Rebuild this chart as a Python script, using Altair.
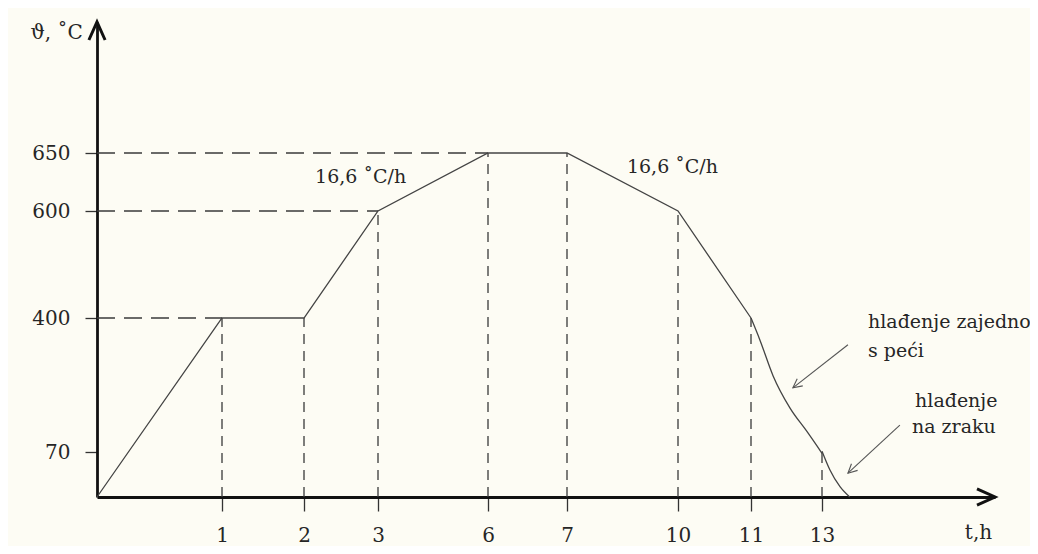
import altair as alt
import pandas as pd

# ---- data ----
# annealing profile: time (h) and temperature (°C)
t_h = [0, 1, 2, 3, 6, 7, 10, 11]
temp_c = [0, 400, 400, 600, 650, 650, 600, 400]
# cooling curves (with the furnace, then in air)
cool_seg = ["furnace"] * 6 + ["air"] * 4
cool_t = [11, 11.25, 11.62, 12.1, 12.58, 13, 13, 13.23, 13.52, 13.8]
cool_temp = [400, 346, 258, 178, 120, 68, 72, 42, 16, 0]

x_ticks = [1, 2, 3, 6, 7, 10, 11, 13]
x_tick_temp = [400, 400, 600, 650, 650, 600, 400, 70]
y_ticks = [70, 400, 600, 650]
h_guide_temp = [650, 600, 400]
h_guide_t = [6, 3, 1]

# schematic (non-uniform) axes: piecewise-linear scales
x_domain = [0, 1, 2, 3, 6, 7, 10, 11, 13, 18]
x_range = [0, 125, 207, 281, 391, 470, 581, 654, 725, 898]
y_domain = [0, 70, 400, 600, 650, 760]
y_range = [475, 430, 296, 189, 131, 0]

# annotations
note_text = ["16,6 ˚C/h", "16,6 ˚C/h", "hlađenje zajedno", "s peći", "hlađenje", "na zraku"]
note_t = [2.15, 8.62, 14.33, 14.33, 15.69, 15.6]
note_temp = [624, 633, 375, 304, 181, 117]

arrow_t = [13.75, 15.25]
arrow_temp = [334, 136]
arrow_t2 = [12.18, 13.75]
arrow_temp2 = [228, 37]
arrow_angle = [142, 137]

axis_arrow_t = [18, 0]
axis_arrow_temp = [0, 760]
axis_arrow_angle = [0, 270]

FONT = "DejaVu Serif"
INK = "#262626"

xs = alt.Scale(domain=x_domain, range=x_range, nice=False, zero=False)
ys = alt.Scale(domain=y_domain, range=y_range, nice=False, zero=False)

x_axis = alt.Axis(values=x_ticks, grid=False, domainColor="#111111", domainWidth=2.8,
                  tickColor="#333333", tickSize=14, tickWidth=1.3,
                  labelFont=FONT, labelFontSize=20, labelColor=INK,
                  labelPadding=24, labelBaseline="middle", labelFlush=False,
                  title="t,h", titleFont=FONT, titleFontSize=20, titleFontWeight="normal",
                  titleColor=INK, titleX=881, titleY=35, titleBaseline="middle",
                  titleAlign="center")
y_axis = alt.Axis(values=y_ticks, grid=False, domainColor="#111111", domainWidth=2.8,
                  tickColor="#333333", tickSize=12, tickWidth=1.3,
                  labelFont=FONT, labelFontSize=20, labelColor=INK,
                  labelPadding=15, labelFlush=False,
                  title="ϑ, ˚C", titleFont=FONT, titleFontSize=20, titleFontWeight="normal",
                  titleColor=INK, titleAngle=0, titleX=-67, titleY=10,
                  titleAlign="left", titleBaseline="middle")

def X(f="t"):
    return alt.X(f"{f}:Q", scale=xs, axis=x_axis)

def Y(f="temp"):
    return alt.Y(f"{f}:Q", scale=ys, axis=y_axis)

profile = pd.DataFrame({"t": t_h, "temp": temp_c})
cooling = pd.DataFrame({"t": cool_t, "temp": cool_temp, "seg": cool_seg})
vguides = pd.DataFrame({"t": x_ticks, "temp": [0] * len(x_ticks), "temp2": x_tick_temp})
hguides = pd.DataFrame({"t": [0] * len(h_guide_t), "t2": h_guide_t, "temp": h_guide_temp})
notes = pd.DataFrame({"t": note_t, "temp": note_temp, "label": note_text})
arrows = pd.DataFrame({"t": arrow_t, "temp": arrow_temp, "t2": arrow_t2,
                       "temp2": arrow_temp2, "angle": arrow_angle})
axis_arrows = pd.DataFrame({"t": axis_arrow_t, "temp": axis_arrow_temp,
                            "angle": axis_arrow_angle})

vlines = alt.Chart(vguides).mark_rule(color="#3a3a3a", strokeWidth=1.3,
                                      strokeDash=[10, 7]).encode(
    x=X(), y=Y(), y2="temp2:Q")
hlines = alt.Chart(hguides).mark_rule(color="#3a3a3a", strokeWidth=1.3,
                                      strokeDash=[18, 9]).encode(
    x=X(), x2="t2:Q", y=Y())
line = alt.Chart(profile).mark_line(color="#444444", strokeWidth=1.3).encode(
    x=X(), y=Y(), order="t:Q")
cool = alt.Chart(cooling).mark_line(color="#444444", strokeWidth=1.3,
                                    interpolate="monotone").encode(
    x=X(), y=Y(), detail="seg:N")
texts = alt.Chart(notes).mark_text(font=FONT, fontSize=19, color=INK, align="left",
                                   baseline="alphabetic").encode(
    x=X(), y=Y(), text="label:N")
arrow_lines = alt.Chart(arrows).mark_rule(color="#555555", strokeWidth=1.1).encode(
    x=X(), y=Y(), x2="t2:Q", y2="temp2:Q")
arrow_heads = alt.Chart(arrows).mark_point(
    shape="M -1 -0.5 L 0 0 L -1 0.5", filled=False, color="#555555",
    strokeWidth=1.1, size=324, opacity=1).encode(
    x=X("t2"), y=Y("temp2"), angle=alt.Angle("angle:Q", scale=None))
axis_heads = alt.Chart(axis_arrows).mark_point(
    shape="M -1 -0.45 L 0 0 L -1 0.45", filled=False, color="#111111",
    strokeWidth=3, size=1296, opacity=1).encode(
    x=X(), y=Y(), angle=alt.Angle("angle:Q", scale=None))

chart = alt.layer(vlines, hlines, line, cool, arrow_lines, arrow_heads, texts,
                  axis_heads).properties(
    width=898, height=475,
    autosize=alt.AutoSizeParams(type="none"),
    padding={"left": 89, "top": 14, "right": 35, "bottom": 49},
    background="#fdfcf4",
).configure_view(stroke=None)

chart.save("out.html", embed_options={"renderer": "svg", "actions": False})
